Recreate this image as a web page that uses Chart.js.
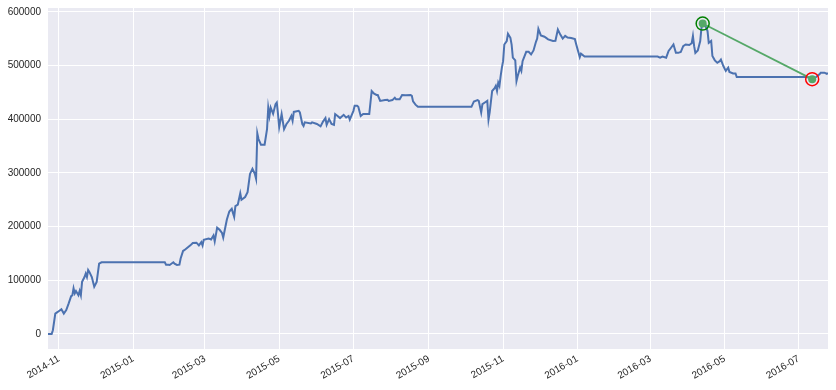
<!DOCTYPE html>
<html>
<head>
<meta charset="utf-8">
<script src="https://cdn.jsdelivr.net/npm/chart.js@4/dist/chart.umd.min.js"></script>
<style>
  html, body { margin: 0; padding: 0; background: #fff; }
  #wrap { width: 836px; height: 390px; }
</style>
</head>
<body>
<div id="wrap"><canvas id="c"></canvas></div>
<script>
// equity curve
const dates = [
  "2014-10-23","2014-10-26","2014-10-27","2014-10-29","2014-10-31","2014-11-03","2014-11-05","2014-11-07",
  "2014-11-09","2014-11-11","2014-11-12","2014-11-13","2014-11-14","2014-11-15","2014-11-17","2014-11-18",
  "2014-11-19","2014-11-20","2014-11-22","2014-11-23","2014-11-24","2014-11-25","2014-11-26","2014-11-28",
  "2014-11-30","2014-12-02","2014-12-04","2014-12-06","2015-01-27","2015-01-28","2015-01-30","2015-01-31",
  "2015-02-03","2015-02-04","2015-02-06","2015-02-08","2015-02-09","2015-02-11","2015-02-12","2015-02-17",
  "2015-02-19","2015-02-22","2015-02-24","2015-02-26","2015-02-27","2015-02-28","2015-03-04","2015-03-06",
  "2015-03-08","2015-03-09","2015-03-11","2015-03-13","2015-03-15","2015-03-16","2015-03-19","2015-03-21",
  "2015-03-23","2015-03-25","2015-03-26","2015-03-28","2015-03-30","2015-03-31","2015-04-03","2015-04-05",
  "2015-04-07","2015-04-09","2015-04-11","2015-04-12","2015-04-13","2015-04-14","2015-04-16","2015-04-19",
  "2015-04-21","2015-04-22","2015-04-23","2015-04-24","2015-04-26","2015-04-28","2015-04-29","2015-04-30",
  "2015-05-01","2015-05-03","2015-05-05","2015-05-07","2015-05-09","2015-05-11","2015-05-12","2015-05-13",
  "2015-05-17","2015-05-18","2015-05-20","2015-05-21","2015-05-22","2015-05-27","2015-05-28","2015-06-01",
  "2015-06-04","2015-06-06","2015-06-08","2015-06-09","2015-06-11","2015-06-13","2015-06-15","2015-06-16",
  "2015-06-18","2015-06-20","2015-06-23","2015-06-25","2015-06-27","2015-06-28","2015-07-01","2015-07-02",
  "2015-07-04","2015-07-05","2015-07-07","2015-07-09","2015-07-14","2015-07-16","2015-07-18","2015-07-20",
  "2015-07-21","2015-07-23","2015-07-27","2015-07-29","2015-07-30","2015-08-02","2015-08-04","2015-08-05",
  "2015-08-08","2015-08-10","2015-08-13","2015-08-17","2015-08-18","2015-08-19","2015-08-21","2015-08-23",
  "2015-10-06","2015-10-08","2015-10-11","2015-10-12","2015-10-14","2015-10-15","2015-10-17","2015-10-19",
  "2015-10-20","2015-10-21","2015-10-23","2015-10-25","2015-10-26","2015-10-27","2015-10-28","2015-10-29",
  "2015-10-30","2015-10-31","2015-11-01","2015-11-02","2015-11-04","2015-11-05","2015-11-07","2015-11-08",
  "2015-11-09","2015-11-11","2015-11-12","2015-11-13","2015-11-15","2015-11-16","2015-11-17","2015-11-20",
  "2015-11-22","2015-11-24","2015-11-26","2015-11-28","2015-11-29","2015-11-30","2015-12-02","2015-12-05",
  "2015-12-08","2015-12-12","2015-12-14","2015-12-16","2015-12-18","2015-12-20","2015-12-22","2015-12-24",
  "2015-12-27","2015-12-30","2015-12-31","2016-01-02","2016-01-03","2016-01-04","2016-01-07","2016-03-07",
  "2016-03-09","2016-03-11","2016-03-14","2016-03-16","2016-03-18","2016-03-20","2016-03-22","2016-03-24",
  "2016-03-26","2016-03-28","2016-03-30","2016-04-02","2016-04-04","2016-04-05","2016-04-06","2016-04-07",
  "2016-04-09","2016-04-11","2016-04-12","2016-04-13","2016-04-15","2016-04-17","2016-04-18","2016-04-20",
  "2016-04-21","2016-04-23","2016-04-25","2016-04-27","2016-04-28","2016-04-30","2016-05-02","2016-05-04",
  "2016-05-05","2016-05-08","2016-05-10","2016-05-11","2016-07-07","2016-07-10","2016-07-12","2016-07-15",
  "2016-07-18","2016-07-19","2016-07-22","2016-07-24","2016-07-25"
];
const equity = [
  0, 0, 7000, 38000, 41000, 46000, 38000, 44500,
  57000, 70500, 72000, 85000, 75500, 80000, 72000, 80000,
  72000, 97000, 106000, 112500, 106000, 119000, 115500, 106000,
  88000, 97000, 131000, 133500, 133500, 129000, 129000, 128500,
  133500, 131000, 128500, 129000, 140500, 154500, 156000, 165000,
  169500, 170000, 165000, 171000, 165000, 175500, 177500, 176000,
  183500, 172500, 198000, 194000, 188000, 179500, 213000, 228000,
  233000, 218000, 238000, 241000, 262000, 250000, 255000, 264000,
  298000, 307500, 298000, 289000, 373500, 363000, 352500, 352500,
  381500, 421500, 406000, 421500, 410000, 428000, 431000, 410000,
  385000, 409500, 381500, 391000, 397000, 406000, 397000, 413500,
  415500, 412500, 391000, 387500, 394000, 392000, 394000, 391000,
  386500, 395500, 402000, 389500, 400000, 391000, 389500, 409500,
  406000, 402000, 408000, 403000, 406000, 399000, 415500, 425000,
  425000, 423000, 406000, 409500, 409500, 452500, 447500, 445000,
  445000, 434000, 435500, 436000, 434000, 435500, 440000, 437000,
  437000, 445000, 444500, 445000, 443500, 433000, 427000, 423000,
  423000, 433000, 435500, 434000, 412500, 428000, 431000, 434000,
  399000, 413000, 452500, 457500, 462000, 452500, 468000, 462000,
  480500, 496000, 508000, 539000, 545500, 559000, 551500, 539000,
  514500, 509500, 471000, 480500, 496000, 490000, 508000, 525500,
  525500, 520500, 528000, 544000, 550000, 568000, 556000, 553500,
  548500, 545500, 546000, 567000, 557500, 550000, 555000, 552000,
  551000, 549000, 540000, 523500, 515500, 522000, 516500, 516500,
  514500, 516500, 514500, 527000, 533000, 539000, 523500, 523500,
  525000, 536000, 539000, 538000, 541500, 555000, 536000, 523500,
  528000, 545500, 570000, 578000, 575000, 564000, 542000, 545500,
  517500, 509500, 505000, 508000, 511000, 499000, 490000, 496000,
  488000, 485000, 485000, 478500, 478500, 477000, 474500, 478000,
  483500, 486500, 486500, 484500, 486000
];
const xTicks = ["2014-11","2015-01","2015-03","2015-05","2015-07","2015-09","2015-11","2016-01","2016-03","2016-05","2016-07"];
const yTicks = [0, 100000, 200000, 300000, 400000, 500000, 600000];

const toTs = s => { const p = s.split("-").map(Number); return Date.UTC(p[0], p[1] - 1, p[2] || 1); };
const pts = dates.map((d, i) => ({ x: toTs(d), y: equity[i] }));

// max drawdown: peak, then lowest point after it
let pk = 0;
equity.forEach((v, i) => { if (v > equity[pk]) pk = i; });
let tr = pk;
for (let i = pk; i < equity.length; i++) if (equity[i] < equity[tr]) tr = i;
const ddPts = [pts[pk], pts[tr]];

const bgPlugin = {
  id: "bg",
  beforeDraw(chart) {
    const { ctx, chartArea: a } = chart;
    ctx.save();
    ctx.fillStyle = "#EAEAF2";
    ctx.fillRect(a.left, a.top, a.right - a.left, a.bottom - a.top);
    ctx.restore();
  }
};

const font = { family: "'Liberation Sans', Arial, sans-serif", size: 10 };

new Chart(document.getElementById("c"), {
  type: "line",
  data: {
    datasets: [
      { data: [pts[tr]], borderColor: "#FF0000", backgroundColor: "rgba(0,0,0,0)", pointRadius: 6.5, pointBorderWidth: 1.5, showLine: false, order: 0 },
      { data: [pts[pk]], borderColor: "#008000", backgroundColor: "rgba(0,0,0,0)", pointRadius: 6.5, pointBorderWidth: 1.5, showLine: false, order: 0 },
      { data: ddPts, borderColor: "#55A868", backgroundColor: "#55A868", borderWidth: 1.75, pointRadius: 4, pointBorderWidth: 0, order: 1 },
      { data: pts, borderColor: "#4C72B0", borderWidth: 2, pointRadius: 0, tension: 0, order: 2 }
    ]
  },
  options: {
    responsive: true,
    maintainAspectRatio: false,
    animation: false,
    layout: { padding: { top: 7, right: 7, left: 0, bottom: 0 } },
    plugins: { legend: { display: false }, tooltip: { enabled: false } },
    scales: {
      x: {
        type: "linear",
        min: toTs(dates[0]),
        max: toTs(dates[dates.length - 1]),
        afterBuildTicks: s => { s.ticks = xTicks.map(t => ({ value: toTs(t) })); },
        afterFit: s => { s.height = 41; s.paddingLeft = 0; s.paddingRight = 0; },
        grid: { color: "#FFFFFF", lineWidth: 1, drawTicks: false },
        border: { display: false },
        ticks: {
          font, color: "#262626", padding: 4, minRotation: 30, maxRotation: 30, autoSkip: false,
          callback: v => { const d = new Date(v); return d.getUTCFullYear() + "-" + String(d.getUTCMonth() + 1).padStart(2, "0"); }
        }
      },
      y: {
        min: -28000,
        max: 607000,
        afterBuildTicks: s => { s.ticks = yTicks.map(v => ({ value: v })); },
        afterFit: s => { s.width = 48; s.paddingTop = 0; s.paddingBottom = 0; },
        grid: { color: "#FFFFFF", lineWidth: 1, drawTicks: false },
        border: { display: false },
        ticks: { font, color: "#262626", padding: 7, callback: v => String(v) }
      }
    }
  },
  plugins: [bgPlugin]
});
</script>
</body>
</html>
